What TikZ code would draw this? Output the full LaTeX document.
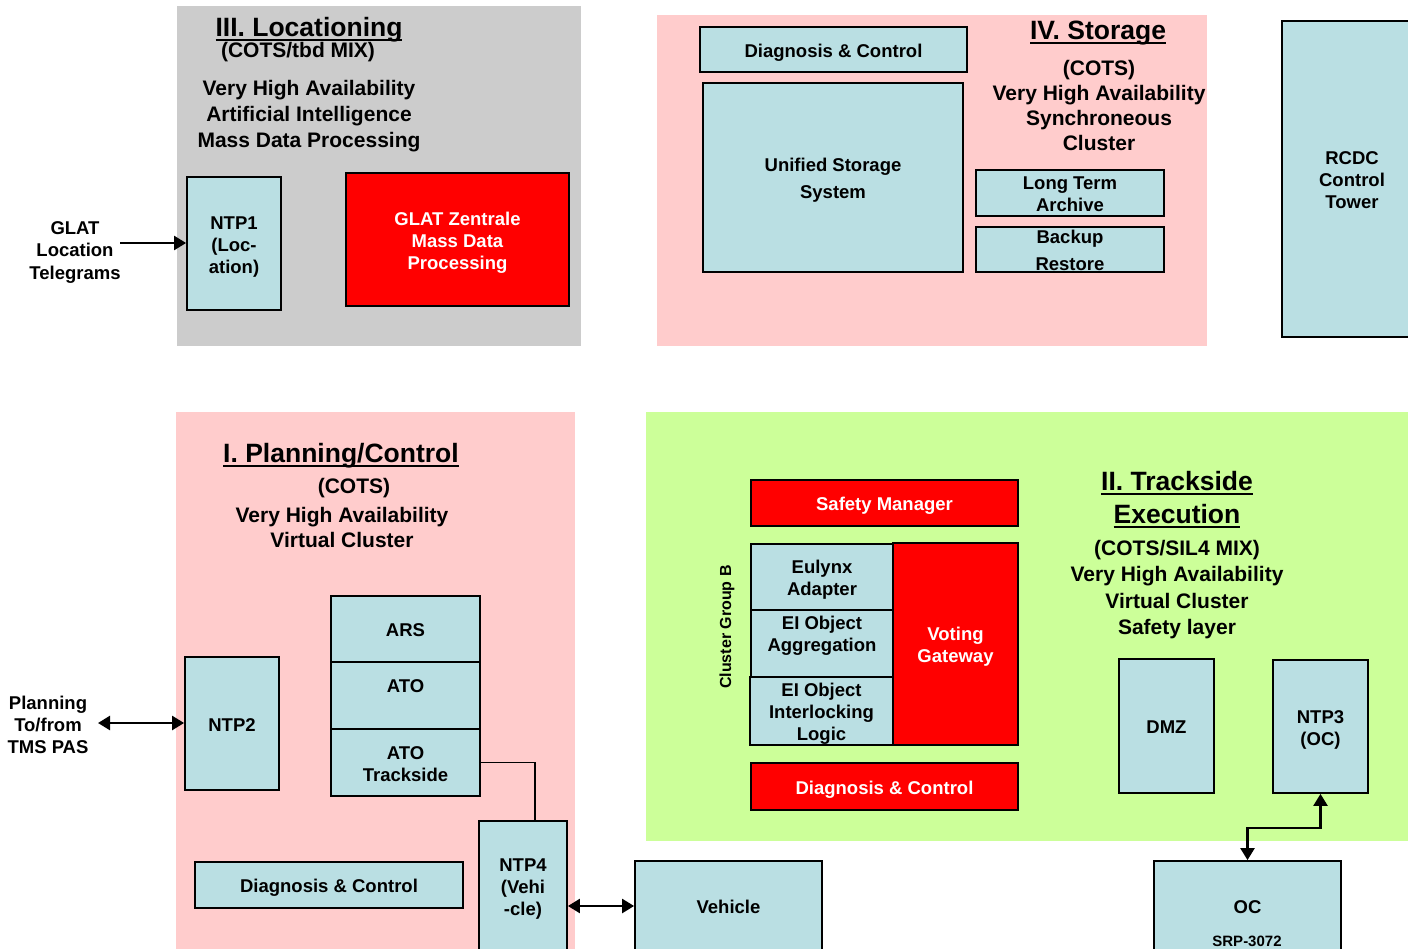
\documentclass[tikz,border=0pt]{standalone}
\usepackage{fontspec}
\setmainfont{Liberation Sans}
\usetikzlibrary{arrows.meta}
\definecolor{zonegray}{HTML}{CCCCCC}
\definecolor{zonepink}{HTML}{FFCCCC}
\definecolor{zonegreen}{HTML}{CCFF99}
\definecolor{boxcyan}{HTML}{BADFE3}
\definecolor{boxred}{HTML}{FF0000}
\newcommand\setfs[2]{\fontsize{#1}{#2}\selectfont}
% heading underline: a 1.9pt bar just under the baseline
\newcommand\ulx[1]{\setbox0=\hbox{#1}\rlap{\rule[-4.3pt]{\wd0}{1.9pt}}\box0}
\begin{document}
\begin{tikzpicture}[x=1pt,y=-1pt,
  box/.style={draw=black, line width=1.8pt, fill=boxcyan, align=center, inner sep=0pt,
    font=\bfseries\setfs{18.5}{22}, text height=15.5pt, text depth=0pt},
  two/.style={text height=37.5pt},
  three/.style={text height=59.5pt},
  wide/.style={font=\bfseries\setfs{18.5}{27}, text height=42.5pt},
  redbox/.style={box, fill=boxred, text=white},
  caption/.style={align=center, inner sep=0pt, font=\bfseries\setfs{21}{26}},
  heading/.style={align=center, inner sep=0pt, font=\bfseries\setfs{26.5}{33},
    text height=19pt, text depth=5.5pt},
  sidetext/.style={align=center, inner sep=0pt, font=\bfseries\setfs{18.5}{22.5}},
  >={Triangle[length=12pt,width=14pt]},
  flow/.style={line width=2.4pt},
  link/.style={line width=1.3pt}]
\useasboundingbox (0,0) rectangle (1408,949);
\fill[white] (0,0) rectangle (1408,949);

% ---- zones ----
\fill[zonegray]  (177,6)   rectangle (581,346);
\fill[zonepink]  (657,15)  rectangle (1207,346);
\fill[zonepink]  (176,412) rectangle (575,960);
\fill[zonegreen] (646,412) rectangle (1420,841);

% ---- III. Locationing ----
\node[heading] (lochead) at (309,29.5) {\ulx{III. Locationing}};
\node[caption] (locmix) at (298,52.5) {(COTS/tbd MIX)};
\node[caption] (locbody) at (309,116) {Very High Availability\\Artificial Intelligence\\Mass Data Processing};
\node[box, three, minimum width=94, minimum height=133] (ntp1) at (234,243.5) {NTP1\\(Loc-\\ation)};
\node[redbox, three, minimum width=223, minimum height=133] (glat) at (457.5,239.5) {GLAT Zentrale\\Mass Data\\Processing};
\node[sidetext] (glatlabel) at (75,252.5) {GLAT\\Location\\Telegrams};
\coordinate (glatin) at (120,243);
\draw[flow,->] (glatin) -- (ntp1.west |- glatin);

% ---- IV. Storage ----
\node[box, minimum width=267, minimum height=45] (stdiag) at (833.5,49.5) {Diagnosis \& Control};
\node[box, wide, minimum width=260, minimum height=189] (uss) at (833,177.5) {Unified Storage\\System};
\node[heading] (sthead) at (1098,33) {\ulx{IV. Storage}};
\node[caption, font=\bfseries\setfs{21}{25}] (stbody) at (1099,105) {(COTS)\\Very High Availability\\Synchroneous\\Cluster};
\node[box, two, minimum width=188, minimum height=46] (lta) at (1070,193) {Long Term\\Archive};
\node[box, wide, minimum width=188, minimum height=45] (bkp) at (1070,249.5) {Backup\\Restore};

% ---- RCDC ----
\node[box, three, minimum width=140, minimum height=316] (rcdc) at (1352,179) {RCDC\\Control\\Tower};

% ---- I. Planning/Control ----
\node[heading] (plhead) at (341,455.5) {\ulx{I. Planning/Control}};
\node[caption] (plcots) at (354,488) {(COTS)};
\node[caption, font=\bfseries\setfs{21}{25}] (plbody) at (342,527.5) {Very High Availability\\Virtual Cluster};
\node[box, minimum width=94, minimum height=133] (ntp2) at (232,723.5) {NTP2};
\node[box, minimum width=149, minimum height=66] (ars) at (405.5,629) {ARS};
\node[box, two, minimum width=149, minimum height=67] (ato) at (405.5,695.5) {ATO\\~};
\node[box, two, minimum width=149, minimum height=67] (atotr) at (405.5,762.5) {ATO\\Trackside};
\node[box, three, minimum width=88, minimum height=130] (ntp4) at (523,886) {NTP4\\(Vehi\\-cle)};
\node[box, minimum width=268, minimum height=46] (pldiag) at (329,885) {Diagnosis \& Control};
\node[sidetext, font=\bfseries\setfs{18.5}{22}] (pllabel) at (48,725) {Planning\\To/from\\TMS PAS};
\coordinate (plout) at (98,723);
\draw[flow,<->] (plout) -- (ntp2.west |- plout);
\draw[link] (atotr.east) -| ([xshift=12pt]ntp4.north);

% ---- Vehicle ----
\node[box, minimum width=187, minimum height=90] (vehicle) at (728.5,906) {Vehicle};
\draw[flow,<->] (vehicle.west -| ntp4.east) -- (vehicle.west);

% ---- II. Trackside Execution ----
\node[redbox, minimum width=267, minimum height=46] (safety) at (884.5,503) {Safety Manager};
\node[redbox, two, minimum width=125, minimum height=202] (voting) at (955.5,644) {Voting\\Gateway};
\node[box, two, minimum width=142, minimum height=66] (eulynx) at (822,577) {Eulynx\\Adapter};
\node[box, three, minimum width=142, minimum height=67] (eiagg) at (822,643.5) {EI Object\\Aggregation\\~};
\node[box, three, minimum width=143, minimum height=68] (eiil) at (821.5,711) {EI Object\\Interlocking\\Logic};
\node[redbox, minimum width=267, minimum height=47] (tsdiag) at (884.5,786.5) {Diagnosis \& Control};
\node[inner sep=0pt, rotate=90, font=\bfseries\setfs{16}{18}] (clgroup) at (727,627) {Cluster Group B};
\node[heading, text height=52pt] (tshead) at (1177,500) {\ulx{II. Trackside}\\\ulx{Execution}};
\node[caption, font=\bfseries\setfs{21}{26.3}] (tsbody) at (1177,589.5) {(COTS/SIL4 MIX)\\Very High Availability\\Virtual Cluster\\Safety layer};
\node[box, minimum width=95, minimum height=134] (dmz) at (1166.5,726) {DMZ};
\node[box, two, minimum width=95, minimum height=133] (ntp3) at (1320.5,726.5) {NTP3\\(OC)};

% ---- OC ----
\node[box, minimum width=187, minimum height=90] (oc) at (1247.5,906) {OC};
\node[inner sep=0pt, font=\bfseries\setfs{15}{18}] (ocref) at (1247,941) {SRP-3072};
\draw[flow,<->] (ntp3.south) -- ++(0,34) -| (oc.north);
\end{tikzpicture}
\end{document}
